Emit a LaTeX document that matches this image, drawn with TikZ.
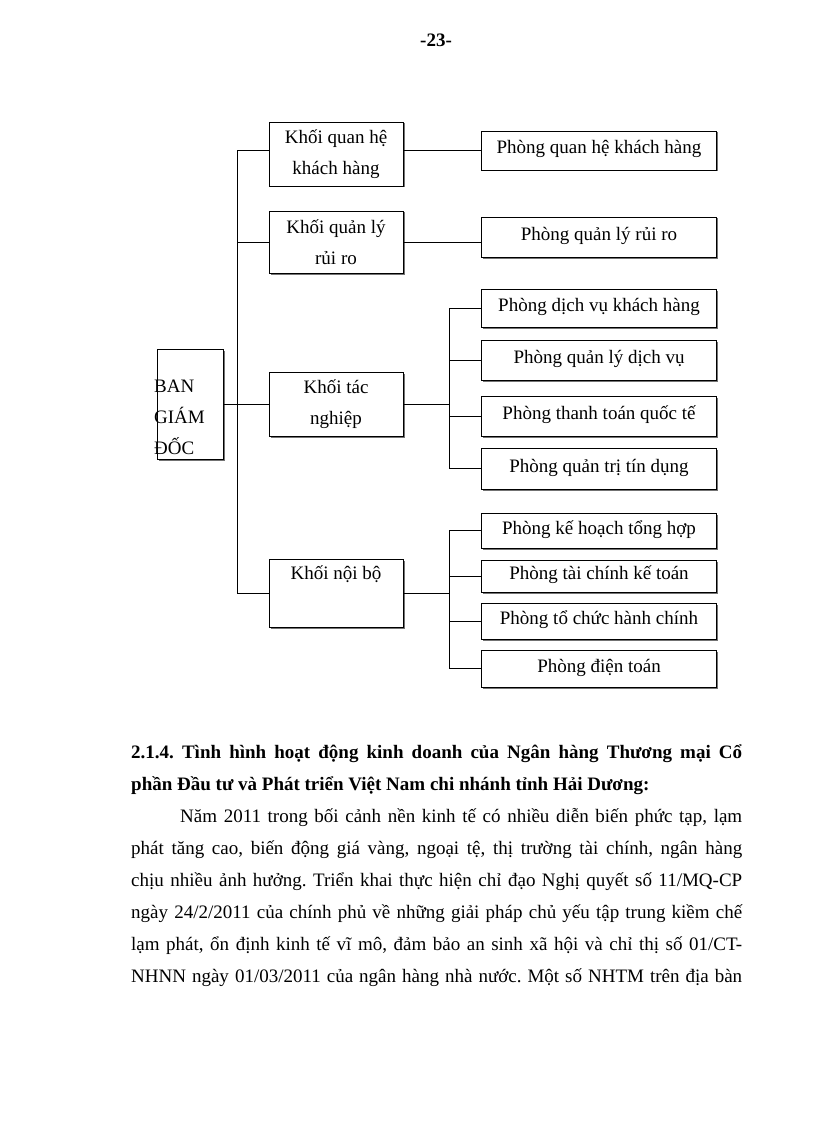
\documentclass[tikz,border=0pt]{standalone}
\usepackage{fontspec}
\setmainfont{Liberation Serif}
\usetikzlibrary{shadows}
\newcommand\dfont{\fontsize{19}{31}\selectfont\frenchspacing}
\begin{document}
\begin{tikzpicture}[x=1pt,y=-1pt,
  box/.style={draw=black, line width=0.9pt, fill=white, inner sep=0pt, font=\dfont,
    drop shadow={shadow xshift=1.5pt, shadow yshift=-1.5pt, fill=black!55, opacity=1}},
  khoi/.style={box, minimum width=134pt, align=center},
  phong/.style={box, minimum width=235pt, text height=12pt, text depth=5pt},
  conn/.style={line width=1pt},
  bline/.style={anchor=base west, inner sep=0pt, font=\dfont}]
\fill[white] (0,0) rectangle (816,1123);
\useasboundingbox (0,0) rectangle (816,1123);

% page number
\node[font=\dfont\bfseries, inner sep=0pt] (pg) at (436,40) {-23-};

% boxes
\node[box, minimum width=66pt, minimum height=110pt] (bgd) at (190,404) {};
\node[anchor=west, align=left, font=\dfont, inner sep=0pt] (bgdt) at (154,417) {BAN\\GIÁM\\ĐỐC};

\node[khoi, minimum height=64pt] (kq) at (336,154) {Khối quan hệ\\khách hàng};
\node[khoi, minimum height=62pt] (kr) at (336,242) {Khối quản lý\\rủi ro};
\node[khoi, minimum height=64pt] (kt) at (336,404) {Khối tác\\nghiệp};
\node[khoi, minimum height=68pt] (kn) at (336,593) {Khối nội bộ\\\strut};

\node[phong, minimum height=39pt] (pq)   at (599,150.5) {Phòng quan hệ khách hàng};
\node[phong, minimum height=40pt] (pr)   at (599,237)   {Phòng quản lý rủi ro};
\node[phong, minimum height=38pt] (pdv)  at (599,308)   {Phòng dịch vụ khách hàng};
\node[phong, minimum height=40pt] (pql)  at (599,360)   {Phòng quản lý dịch vụ};
\node[phong, minimum height=40pt] (ptt)  at (599,416)   {Phòng thanh toán quốc tế};
\node[phong, minimum height=41pt] (pqt)  at (599,468.5) {Phòng quản trị tín dụng};
\node[phong, minimum height=35pt] (pkh)  at (599,530.5) {Phòng kế hoạch tổng hợp};
\node[phong, minimum height=32pt] (ptc)  at (599,576)   {Phòng tài chính kế toán};
\node[phong, minimum height=36pt] (ptcc) at (599,621)   {Phòng tổ chức hành chính};
\node[phong, minimum height=37pt] (pdt)  at (599,668.5) {Phòng điện toán};

% connectors
\coordinate (bus) at (237,0);
\coordinate (sb) at (449,0);
\draw[conn] (bus |- pq.west) -- (kn.west -| bus);
\draw[conn] (bus |- pq.west) -- (kq.west |- pq.west);
\draw[conn] (kr.west -| bus) -- (kr.west);
\draw[conn] (bgd.east) -- (kt.west);
\draw[conn] (kn.west -| bus) -- (kn.west);

\draw[conn] (kq.east |- pq.west) -- (pq.west);
\draw[conn] (kr.east) -- (kr.east -| pr.west);

\draw[conn] (kt.east) -- (kt.east -| sb);
\draw[conn] (pdv.west -| sb) -- (pqt.west -| sb);
\foreach \n in {pdv,pql,ptt,pqt}{\draw[conn] (\n.west -| sb) -- (\n.west);}

\draw[conn] (kn.east) -- (kn.east -| sb);
\draw[conn] (pkh.west -| sb) -- (pdt.west -| sb);
\foreach \n in {pkh,ptc,ptcc,pdt}{\draw[conn] (\n.west -| sb) -- (\n.west);}

% body text
\node[bline, font=\dfont\bfseries] (h1) at (131,758) {\makebox[611pt][s]{2.1.4. Tình hình hoạt động kinh doanh của Ngân hàng Thương mại Cổ}};
\node[bline, font=\dfont\bfseries] (h2) at (131,790) {phần Đầu tư và Phát triển Việt Nam chi nhánh tỉnh Hải Dương:};
\node[bline] (l1) at (180,822) {\makebox[562pt][s]{Năm 2011 trong bối cảnh nền kinh tế có nhiều diễn biến phức tạp, lạm}};
\node[bline] (l2) at (131,854) {\makebox[611pt][s]{phát tăng cao, biến động giá vàng, ngoại tệ, thị trường tài chính, ngân hàng}};
\node[bline] (l3) at (131,886) {\makebox[611pt][s]{chịu nhiều ảnh hưởng. Triển khai thực hiện chỉ đạo Nghị quyết số 11/MQ-CP}};
\node[bline] (l4) at (131,918) {\makebox[611pt][s]{ngày 24/2/2011 của chính phủ về những giải pháp chủ yếu tập trung kiềm chế}};
\node[bline] (l5) at (131,950) {\makebox[611pt][s]{lạm phát, ổn định kinh tế vĩ mô, đảm bảo an sinh xã hội và chỉ thị số 01/CT-}};
\node[bline] (l6) at (131,982) {\makebox[611pt][s]{NHNN ngày 01/03/2011 của ngân hàng nhà nước. Một số NHTM trên địa bàn}};
\end{tikzpicture}
\end{document}
